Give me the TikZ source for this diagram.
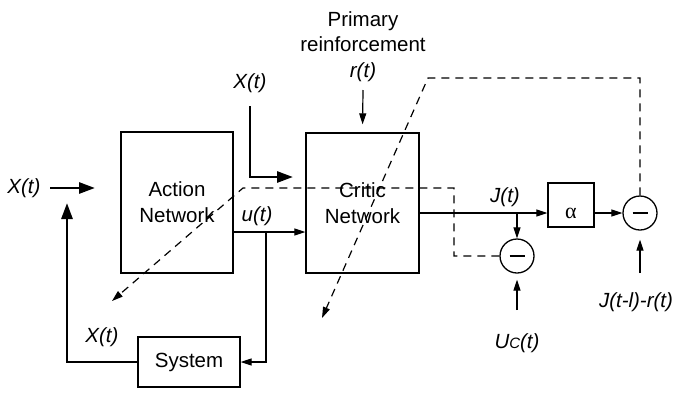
\documentclass[tikz,border=0pt]{standalone}
\usepackage{fontspec}
\setmainfont{Liberation Sans}
\newfontfamily\grk{Liberation Serif}
\usetikzlibrary{arrows.meta}
\begin{document}
\begin{tikzpicture}[x=1pt,y=-1pt, line width=1.2pt,
  every node/.style={font=\fontsize{20.5}{26}\selectfont, inner sep=0pt},
  blk/.style={draw, line width=1.3pt, align=center},
  sumc/.style={draw, circle, minimum size=34pt, line width=1.3pt},
  lbl/.style={font=\fontsize{20.5}{26}\selectfont\itshape},
  arr/.style={-{Triangle[length=11pt,width=7pt]}},
  thk/.style={line width=2.8pt, -{Triangle[length=16pt,width=11pt]}},
  dsh/.style={dash pattern=on 8pt off 6pt}
]
\useasboundingbox (0,0) rectangle (673,392);

% blocks
\node[blk, minimum width=112pt, minimum height=141pt] (act) at (177,202.5) {Action\\Network};
\node[blk, minimum width=113pt, minimum height=140pt] (crit) at (362.5,203) {Critic\\Network};
\node[blk, minimum width=102pt, minimum height=50pt] (sys) at (189,362) {System};
\node[blk, minimum width=46pt, minimum height=44pt] (alpha) at (571,205) {};
\node[font=\grk\fontsize{22}{22}\selectfont] (alph) at (571,213) {α};
\node[sumc] (c1) at (640,213) {};
\node[sumc] (c2) at (517,256) {};
\draw (c1.center) +(-7.5,0) -- +(7.5,0);
\draw (c2.center) +(-7.5,0) -- +(7.5,0);

% labels
\node[lbl] (xin) at (24,188) {X(t)};
\node[lbl] (xtop) at (250,83) {X(t)};
\node[lbl] (xsys) at (102,337) {X(t)};
\node[lbl] (ut) at (257,216) {u(t)};
\node[lbl] (jt) at (505,197) {J(t)};
\node[align=center, font=\fontsize{20.5}{25}\selectfont] (prim) at (363,32) {Primary\\reinforcement};
\node[lbl] (rt) at (363,72) {r(t)};
\node[lbl] (uc) at (517,343) {U{\fontsize{15}{15}\selectfont C}(t)};
\node[lbl] (jl) at (636,302) {J(t-l)-r(t)};

% coordinates
\coordinate (xinbeg) at (50,188);
\coordinate (xinend) at (95,188);
\coordinate (xtopbeg) at (250,106);
\coordinate (xtopend) at (293,177);
\coordinate (fbtip) at (67,203);
\coordinate (urow) at (266,232);
\coordinate (rbeg) at (363,90);
\coordinate (ucbeg) at (517,310);
\coordinate (jlbeg) at (640,273);
\coordinate (tl) at (428,78);
\coordinate (tip1) at (322,318);
\coordinate (d2corner) at (454,188);
\coordinate (d2b) at (243,188);
\coordinate (tip2) at (112,301);

% thick state arrows
\draw[thk] (xinbeg) -- (xinend);
\draw[thk] (xtopbeg) |- (xtopend);
\draw[thk] (sys.west) -| (fbtip);

% signal connectors
\draw[arr] (act.east |- urow) -- (crit.west |- urow);
\draw[arr] (urow) |- (sys.east);
\draw[arr] (crit.east |- c1) -- (alpha.west |- c1);
\draw[arr] (alpha.east |- c1) -- (c1.west);
\draw[arr] (c2 |- c1) -- (c2.north);
\draw[arr, shorten >=8pt] (rbeg) -- (crit.north);
\draw[arr, shorten >=6pt] (ucbeg) -- (c2.south);
\draw[arr, shorten >=9pt] (jlbeg) -- (c1.south);

% dashed training paths
\draw[dsh, arr] (c1.north) -- (c1 |- tl) -- (tl) -- (tip1);
\draw[dsh, arr] (c2.west) -| (d2corner) -- (d2b) -- (tip2);
\end{tikzpicture}
\end{document}
